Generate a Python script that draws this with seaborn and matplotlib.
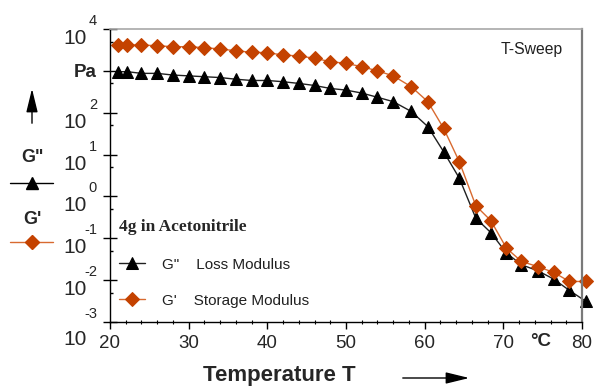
import numpy as np
import pandas as pd
import matplotlib
matplotlib.use("Agg")
import matplotlib.pyplot as plt
import seaborn as sns
from matplotlib.lines import Line2D
from matplotlib.ticker import FixedLocator, NullFormatter

# === Data ===
temperature = [21, 22.2, 24, 26, 28, 30, 32, 34, 36, 38, 40, 42, 44, 46, 48, 50,
               52, 54, 56, 58.3, 60.4, 62.4, 64.4, 66.5, 68.4, 70.4, 72.3, 74.4,
               76.4, 78.4, 80.5]
storage_modulus = [4150, 4150, 4150, 3980, 3780, 3780, 3580, 3330, 3020, 2780,
                   2720, 2390, 2270, 2000, 1660, 1510, 1260, 1000, 760, 417,
                   184, 42.7, 6.8, 0.60, 0.266, 0.058, 0.028, 0.021, 0.0153,
                   0.0093, 0.0093]
loss_modulus = [955, 955, 871, 871, 794, 759, 724, 692, 631, 589, 589, 550, 501,
                447, 380, 347, 295, 234, 184, 107, 46.6, 11.8, 2.74, 0.303,
                0.137, 0.0444, 0.0233, 0.0167, 0.0106, 0.00568, 0.0031]
y_exponents = [4, 2, 1, 0, -1, -2, -3]
x_ticks = [20, 30, 40, 50, 60, 70, 80]

ORANGE = '#C44200'

sns.set_style("white")
plt.rcParams['font.family'] = ['Liberation Sans', 'DejaVu Sans']

fig = plt.figure(figsize=(5.97, 3.90), dpi=100)
ax = fig.add_axes([110 / 597, 68 / 390, 472 / 597, 293 / 390])

df = pd.DataFrame({'T': temperature, 'G1': storage_modulus, 'G2': loss_modulus})

# === Curves ===
sns.lineplot(data=df, x='T', y='G2', ax=ax, color='#202020', linewidth=1,
             marker='^', markersize=9, markerfacecolor='black',
             markeredgecolor='black', label='G"    Loss Modulus', clip_on=False)
sns.lineplot(data=df, x='T', y='G1', ax=ax, color='#D86A30', linewidth=1,
             marker='D', markersize=6.8, markerfacecolor=ORANGE,
             markeredgecolor=ORANGE, label="G'    Storage Modulus", clip_on=False)

ax.set_yscale('log')
ax.set_ylim(1e-3, 1e4)
ax.set_xlim(20, 80)
ax.set_xlabel('')
ax.set_ylabel('')

# === Ticks ===
ax.yaxis.set_major_locator(FixedLocator([10.0 ** k for k in range(-3, 5)]))
ax.yaxis.set_minor_locator(FixedLocator([5 * 10.0 ** k for k in range(-3, 4)]))
ax.yaxis.set_major_formatter(NullFormatter())
ax.yaxis.set_minor_formatter(NullFormatter())
ax.tick_params(axis='y', which='major', direction='inout', length=10, width=1,
               color='black', left=True)
ax.tick_params(axis='y', which='minor', direction='in', length=2, width=1,
               color='black', left=True)

ax.set_xticks(x_ticks)
ax.set_xticks(np.arange(20, 81, 2), minor=True)
ax.tick_params(axis='x', which='major', direction='out', length=5, width=1,
               color='black', labelsize=13.5, pad=4, bottom=True)
ax.tick_params(axis='x', which='minor', direction='inout', length=3, width=0.8,
               color='black', bottom=True)

for side in ['left', 'bottom']:
    ax.spines[side].set_color('black')
    ax.spines[side].set_linewidth(1)
ax.spines['top'].set_color('#a8a8a8')
ax.spines['top'].set_linewidth(1.2)
ax.spines['right'].set_color('#7a7a7a')
ax.spines['right'].set_linewidth(1.6)

# === Y tick labels: "10" with raised exponent ===
for k in y_exponents:
    drop = -23 if k == -3 else -15
    ax.annotate('10', xy=(0, 10.0 ** k), xycoords=('axes fraction', 'data'),
                xytext=(-23, drop), textcoords='offset pixels',
                ha='right', va='baseline', fontsize=15)
    ax.annotate(str(k), xy=(0, 10.0 ** k), xycoords=('axes fraction', 'data'),
                xytext=(-13, 4), textcoords='offset pixels',
                ha='right', va='baseline', fontsize=10.5)
ax.annotate('Pa', xy=(0, 1e3), xycoords=('axes fraction', 'data'),
            xytext=(-13, 0), textcoords='offset pixels',
            ha='right', va='center_baseline', fontsize=13.5, fontweight='bold')

# === Legend ===
leg = ax.legend(loc='upper left', bbox_to_anchor=(0.02, 0.35), frameon=False,
                title='4g in Acetonitrile', alignment='left',
                title_fontproperties={'family': 'Liberation Serif',
                                      'weight': 'bold', 'size': 12.5},
                fontsize=11, handlelength=1.7, handletextpad=1.1,
                labelspacing=1.45, borderpad=0, borderaxespad=0)
for t in leg.get_texts():
    t.set_color('#202020')

# === Annotations ===
ax.text(0.96, 0.93, 'T-Sweep', transform=ax.transAxes, ha='right',
        va='center', fontsize=11.3, color='#202020')
fig.text(541 / 597, 1 - 341 / 390, '°C', ha='center', va='center',
         fontsize=13.5, fontweight='bold')
fig.text(279 / 597, 1 - 376 / 390, 'Temperature T', ha='center', va='center',
         fontsize=16, fontweight='bold')
ax.annotate('', xy=(472, 12), xytext=(400, 12), xycoords='figure pixels',
            arrowprops=dict(arrowstyle='-|>,head_length=0.9,head_width=0.22',
                            mutation_scale=16, color='black', lw=1))
ax.annotate('', xy=(32, 390 - 86), xytext=(32, 390 - 126),
            xycoords='figure pixels',
            arrowprops=dict(arrowstyle='-|>,head_length=0.9,head_width=0.22',
                            mutation_scale=16, color='black', lw=1))

fig.text(33 / 597, 1 - 157 / 390, 'G"', ha='center', va='center',
         fontsize=13, fontweight='bold')
fig.text(32 / 597, 1 - 219 / 390, "G'", ha='center', va='center',
         fontsize=13, fontweight='bold')
fig.add_artist(Line2D([10 / 597, 53 / 597], [1 - 183 / 390] * 2,
                      color='black', lw=1, transform=fig.transFigure))
fig.add_artist(Line2D([32 / 597], [1 - 183 / 390], marker='^', ms=9,
                      color='black', transform=fig.transFigure))
fig.add_artist(Line2D([10 / 597, 53 / 597], [1 - 242 / 390] * 2,
                      color='#D86A30', lw=1, transform=fig.transFigure))
fig.add_artist(Line2D([32 / 597], [1 - 242 / 390], marker='D', ms=6.8,
                      color=ORANGE, transform=fig.transFigure))

fig.savefig('out.png', dpi=100)
